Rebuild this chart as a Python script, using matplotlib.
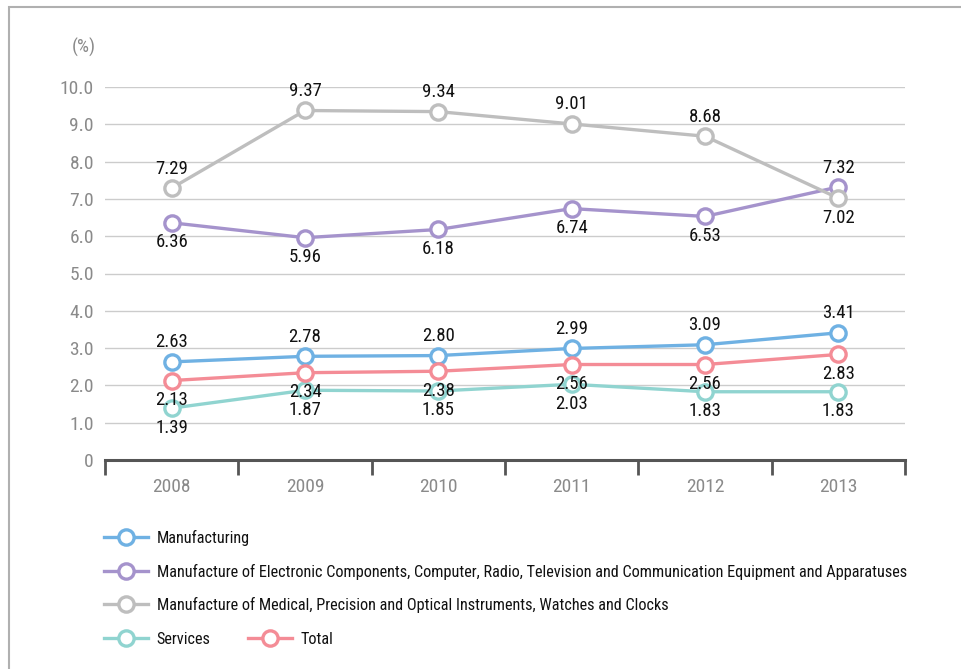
import numpy as np
from matplotlib import pyplot as plt
from matplotlib.patches import Rectangle
from matplotlib import font_manager

# Data
years = ['2008', '2009', '2010', '2011', '2012', '2013']
manufacturing = [2.63, 2.78, 2.80, 2.99, 3.09, 3.41]
electronics = [6.36, 5.96, 6.18, 6.74, 6.53, 7.32]
medical = [7.29, 9.37, 9.34, 9.01, 8.68, 7.02]
services = [1.39, 1.87, 1.85, 2.03, 1.83, 1.83]
total = [2.13, 2.34, 2.38, 2.56, 2.56, 2.83]

names = ['Manufacturing',
         'Manufacture of Electronic Components, Computer, Radio, Television and Communication Equipment and Apparatuses',
         'Manufacture of Medical, Precision and Optical Instruments, Watches and Clocks',
         'Services',
         'Total']

# label placement: +1 above, -1 below
pos_manu = [1, 1, 1, 1, 1, 1]
pos_elec = [-1, -1, -1, -1, -1, 1]
pos_med = [1, 1, 1, 1, 1, -1]
pos_serv = [-1, -1, -1, -1, -1, -1]
pos_total = [-1, -1, -1, -1, -1, -1]

colors = ['#6fb1e3', '#a593cc', '#bebebe', '#90d4d0', '#f48c96']

# Font: a condensed face if one is there
avail = {f.name for f in font_manager.fontManager.ttflist}
font = 'DejaVu Sans'
for cand in ['Roboto Condensed', 'Barlow Condensed', 'Archivo Narrow', 'Asap Condensed']:
    if cand in avail:
        font = cand
        break
plt.rcParams['font.family'] = [font, 'DejaVu Sans']

fig = plt.figure(figsize=(9.61, 6.69), dpi=100)
ax = fig.add_axes([105/961, 209/669, 800/961, 373/669])

x = np.arange(len(years))
series = [manufacturing, electronics, medical, services, total]
positions = [pos_manu, pos_elec, pos_med, pos_serv, pos_total]

handles = []
for vals, c, name in zip(series, colors, names):
    h, = ax.plot(x, vals, '-', color=c, lw=2.4, marker='o', ms=11,
                 mfc='white', mec=c, mew=2.4, label=name, zorder=3)
    handles.append(h)

for vals, pos in zip(series, positions):
    for xi, v, p in zip(x, vals, pos):
        ax.annotate('%.2f' % v, (xi, v), xytext=(0, 14 * p), textcoords='offset points',
                    ha='center', va='center', fontsize=13.5, color='#111111', zorder=4)

# Axes config
ax.set_xlim(-0.5, 5.5)
ax.set_ylim(0, 10)
ax.set_yticks(np.arange(0, 11, 1))
ax.set_yticklabels(['0'] + ['%.1f' % v for v in np.arange(1, 11, 1)])
ax.set_xticks(x)
ax.set_xticklabels(years)
ax.set_xticks(np.arange(-0.5, 6, 1), minor=True)
ax.tick_params(axis='x', which='major', length=0, pad=13, labelsize=14, labelcolor='#8a8a8a')
ax.tick_params(axis='x', which='minor', length=11, width=2, color='#555555', direction='out')
ax.tick_params(axis='y', length=0, pad=8, labelsize=14, labelcolor='#8a8a8a')
for s in ['top', 'right', 'left']:
    ax.spines[s].set_visible(False)
ax.spines['bottom'].set_color('#555555')
ax.spines['bottom'].set_linewidth(2.2)
ax.grid(axis='y', color='#cccccc', lw=1)
ax.set_axisbelow(True)
ax.text(-0.012, 1.105, '(%)', transform=ax.transAxes, ha='right', va='center',
        fontsize=13.5, color='#8a8a8a')

# Frame around the figure
fig.add_artist(Rectangle((9/961, -0.2), 1.5, 0.2 + 662/669, transform=fig.transFigure,
                         fill=False, ec='#b0b0b0', lw=1.5))

# Legend rows
rows = [[handles[0]], [handles[1]], [handles[2]], [handles[3], handles[4]]]
row_y = [131/669, 97/669, 64/669, 30/669]
for hs, yy in zip(rows, row_y):
    leg = fig.legend(handles=hs, labels=[h.get_label() for h in hs], loc='center left',
                     bbox_to_anchor=(104/961, yy), ncol=len(hs), frameon=False,
                     fontsize=11.7, handlelength=2.7, handletextpad=0.55,
                     columnspacing=2.3, borderpad=0, borderaxespad=0)
    for t in leg.get_texts():
        t.set_color('#111111')

fig.savefig('out.png', dpi=100)
